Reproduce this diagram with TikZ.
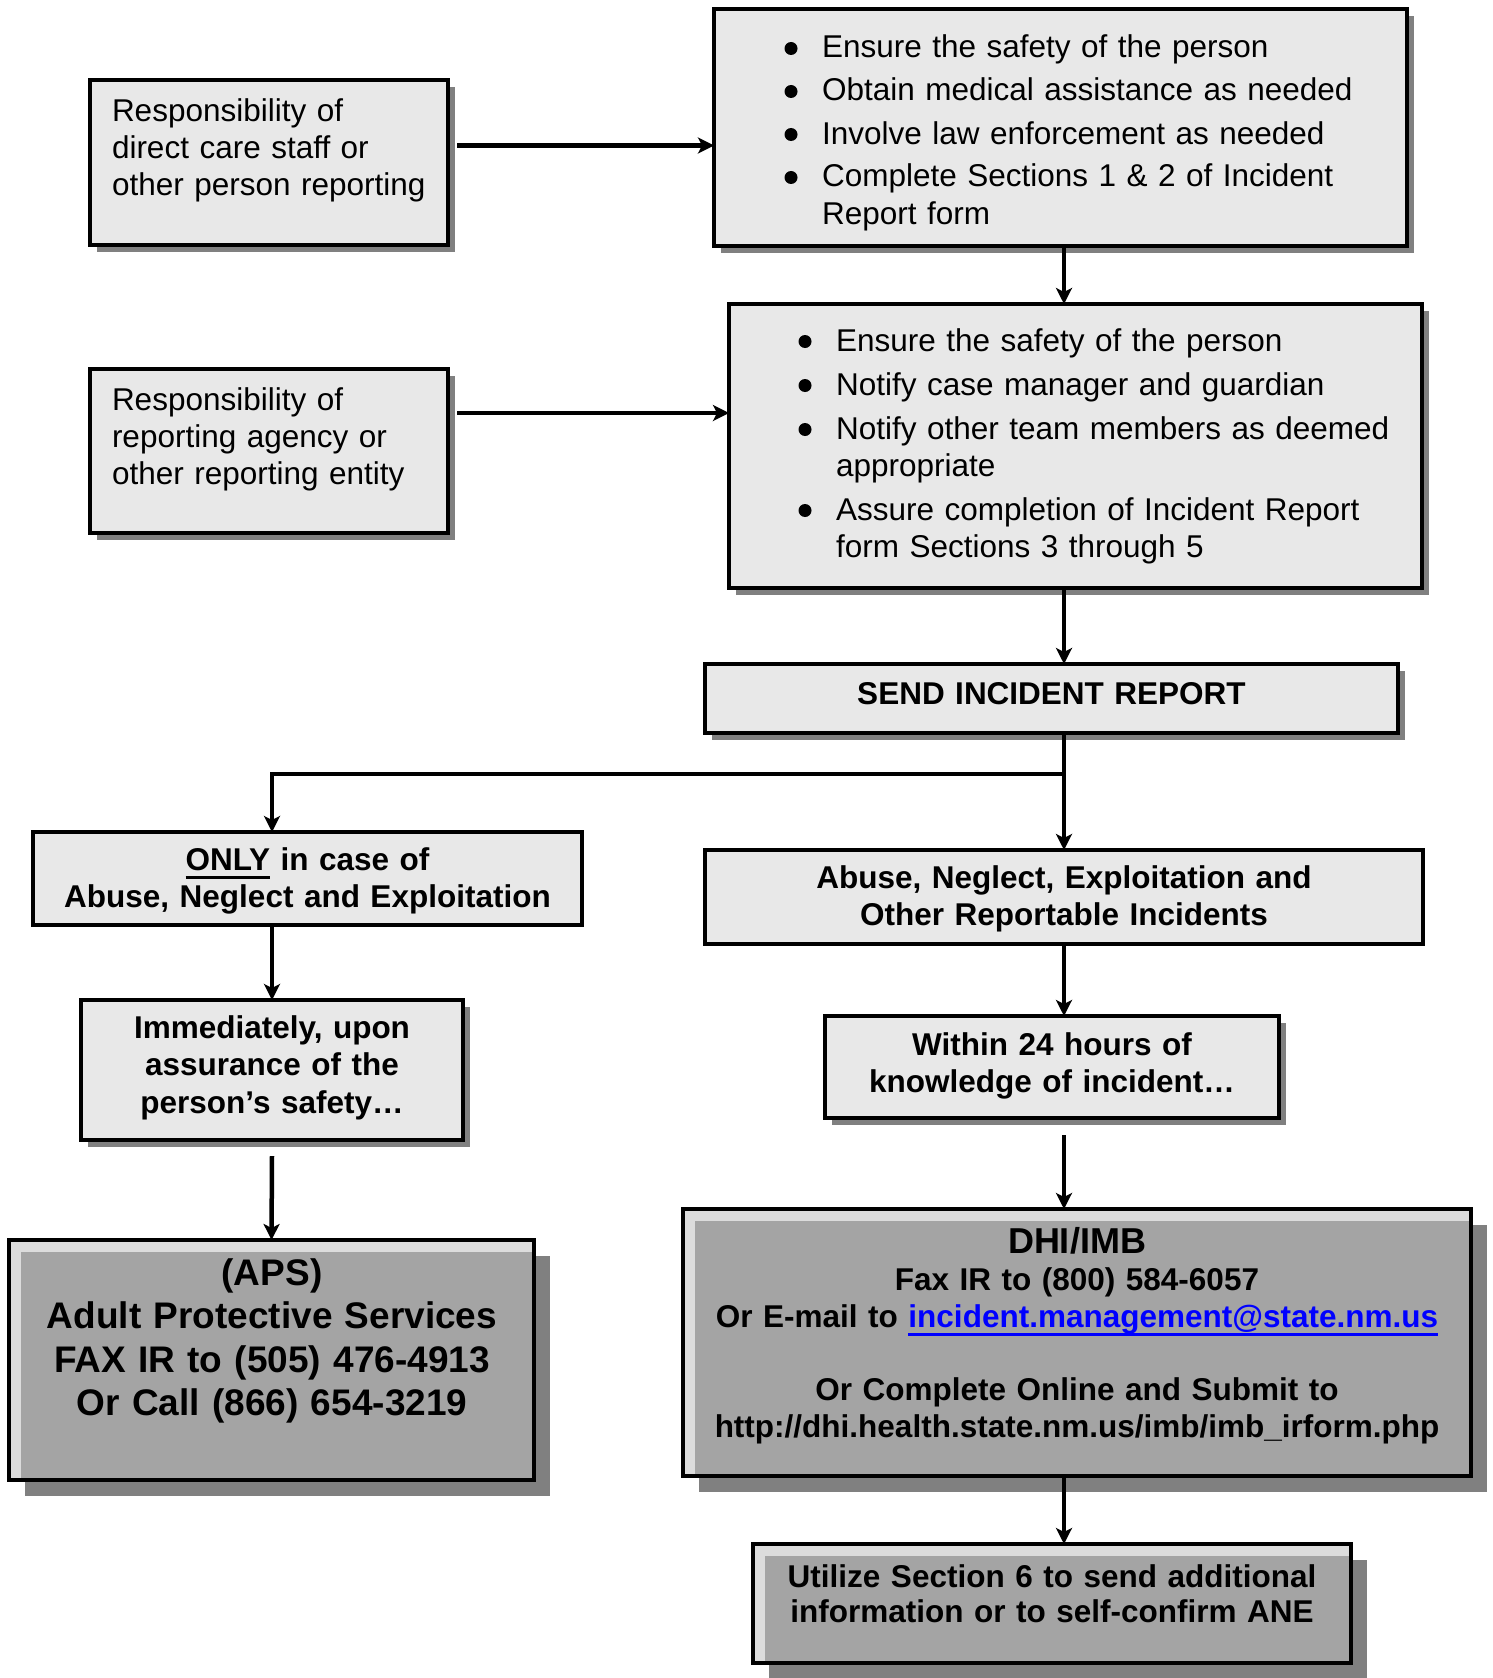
\documentclass[tikz,border=0pt]{standalone}
\usepackage{fontspec}
\setmainfont{Liberation Sans}
\usetikzlibrary{arrows.meta,shadows,calc}
\definecolor{boxfill}{RGB}{232,232,232}
\definecolor{greyrim}{RGB}{220,220,220}
\definecolor{greycore}{RGB}{164,164,164}
\definecolor{shadowcol}{RGB}{128,128,128}
\definecolor{linkcol}{RGB}{0,0,255}
\colorlet{edgecol}{black}
\tikzset{
  every node/.style={inner sep=0pt, outer sep=0pt},
  flowbox/.style={draw=edgecol, line width=4pt, fill=boxfill},
  shadowbox/.style={flowbox,
    drop shadow={shadow xshift=7pt, shadow yshift=-7pt, fill=shadowcol, opacity=1}},
  greybox/.style={draw=edgecol, line width=4pt, fill=greyrim,
    drop shadow={shadow xshift=16pt, shadow yshift=-16pt, fill=shadowcol, opacity=1},
    path picture={\fill[greycore] ([shift={(12pt,-12pt)}]path picture bounding box.north west)
      rectangle (path picture bounding box.south east);}},
  plaintext/.style={font=\fontsize{31.5}{37}\selectfont, text width=#1, align=left, anchor=base west},
  boldtext/.style={font=\fontsize{31.5}{37}\selectfont\bfseries, text width=#1, align=center, anchor=base},
  flowarrow/.style={line width=4.5pt, draw=edgecol, -{Stealth[length=16pt, width=16pt, inset=4pt]}},
}
\newcommand{\bdot}{\tikz[baseline=0pt]\fill (0pt,9.5pt) circle[radius=6.5pt];}
\newcommand{\bitem}[1]{\noindent\hangindent=37.5pt\hangafter=1\relax\makebox[37.5pt][l]{\bdot}#1\par}
\newcommand{\uword}[2][black]{{\sbox0{#2}\rlap{\color{#1}\rule[-8.5pt]{\wd0}{3pt}}\usebox0}}

\begin{document}
\begin{tikzpicture}[x=1pt, y=-1pt]

  \useasboundingbox (0,0) rectangle (1492,1678);

  % Guide lines for the two columns.
  \coordinate (spine) at (1064,0);
  \coordinate (lane) at (272,0);
  \coordinate (junc) at (0,774);

  % Boxes.
  \node[shadowbox, minimum width=358pt, minimum height=165pt] (a) at (269,162.5) {};
  \node[shadowbox, minimum width=693pt, minimum height=237pt] (b) at (1060.5,127.5) {};
  \node[shadowbox, minimum width=693pt, minimum height=284pt] (c) at (1075.5,446) {};
  \node[shadowbox, minimum width=358pt, minimum height=164pt] (d) at (269,451) {};
  \node[shadowbox, minimum width=693pt, minimum height=69pt] (e) at (1051.5,698.5) {};
  \node[flowbox, minimum width=549pt, minimum height=93pt] (f) at (307.5,878.5) {};
  \node[flowbox, minimum width=718pt, minimum height=94pt] (g) at (1064,897) {};
  \node[shadowbox, minimum width=382pt, minimum height=140pt] (h) at (272,1070) {};
  \node[shadowbox, minimum width=454pt, minimum height=102pt] (j) at (1052,1067) {};
  \node[greybox, minimum width=525pt, minimum height=240pt] (i) at (271.5,1360) {};
  \node[greybox, minimum width=788pt, minimum height=267pt] (k) at (1077,1342.5) {};
  \node[greybox, minimum width=598pt, minimum height=119pt] (l) at (1052,1603.5) {};

  % Connectors.
  \draw[flowarrow] ([shift={(9pt,17pt)}]a.east) coordinate (aout) -- (aout -| b.west);
  \draw[flowarrow] ([shift={(9pt,38pt)}]d.east) coordinate (dout) -- (dout -| c.west);
  \draw[flowarrow] (b.south -| spine) -- (c.north -| spine);
  \draw[flowarrow] (c.south -| spine) -- (e.north -| spine);
  \draw[flowarrow] (e.south -| spine) -- (g.north -| spine);
  \draw[flowarrow] (spine |- junc) -| (f.north -| lane);
  \draw[flowarrow] (f.south -| lane) -- (h.north);
  \draw[flowarrow] ([yshift=-16pt]h.south) -- (i.north);
  \draw[flowarrow] (g.south -| spine) -- (j.north -| spine);
  \draw[flowarrow] ($(j.south -| spine)+(0,17)$) -- (k.north -| spine);
  \draw[flowarrow] (k.south -| spine) -- (l.north -| spine);

  % Texts.
  \node[plaintext=340pt] (atext) at (112,121)
    {Responsibility of\\direct care staff or\\other person reporting};
  \node[plaintext=340pt] (dtext) at (112,410)
    {Responsibility of\\reporting agency or\\other reporting entity};
  \node[plaintext=620pt, font=\fontsize{31.5}{38}\selectfont] (btext) at (784.5,58)
    {\setlength{\parskip}{5pt}%
     \bitem{Ensure the safety of the person}%
     \bitem{Obtain medical assistance as needed}%
     \bitem{Involve law enforcement as needed}%
     \bitem{Complete Sections 1 \& 2 of Incident\newline Report form}};
  \node[plaintext=630pt] (ctext) at (798.5,351)
    {\setlength{\parskip}{7pt}%
     \bitem{Ensure the safety of the person}%
     \bitem{Notify case manager and guardian}%
     \bitem{Notify other team members as deemed\newline appropriate}%
     \bitem{Assure completion of Incident Report\newline form Sections 3 through 5}};
  \node[boldtext=690pt] (etext) at (1051.5,704) {SEND INCIDENT REPORT};
  \node[boldtext=540pt] (ftext) at (307.5,870)
    {\uword{ONLY} in case of\\Abuse, Neglect and Exploitation};
  \node[boldtext=710pt] (gtext) at (1064,888)
    {Abuse, Neglect, Exploitation and\\Other Reportable Incidents};
  \node[boldtext=370pt, font=\fontsize{31.5}{37.5}\selectfont\bfseries] (htext) at (272,1038)
    {Immediately, upon\\assurance of the\\person’s safety…};
  \node[boldtext=440pt] (jtext) at (1052,1055)
    {Within 24 hours of\\knowledge of incident…};
  \node[boldtext=515pt, font=\fontsize{37}{43.5}\selectfont\bfseries] (itext) at (272,1285)
    {(APS)\\Adult Protective Services\\FAX IR to (505) 476-4913\\Or Call (866) 654-3219};
  \node[boldtext=780pt] (ktext) at (1077,1253)
    {{\fontsize{36}{37}\selectfont DHI/IMB}\\Fax IR to (800) 584-6057\\
     Or E-mail to {\color{linkcol}\uword[linkcol]{incident.management@state.nm.us}}\\[36pt]
     Or Complete Online and Submit to\\http://dhi.health.state.nm.us/imb/imb\_irform.php};
  \node[boldtext=590pt, font=\fontsize{31.5}{35}\selectfont\bfseries] (ltext) at (1052,1587)
    {Utilize Section 6 to send additional\\information or to self-confirm ANE};

\end{tikzpicture}
\end{document}
